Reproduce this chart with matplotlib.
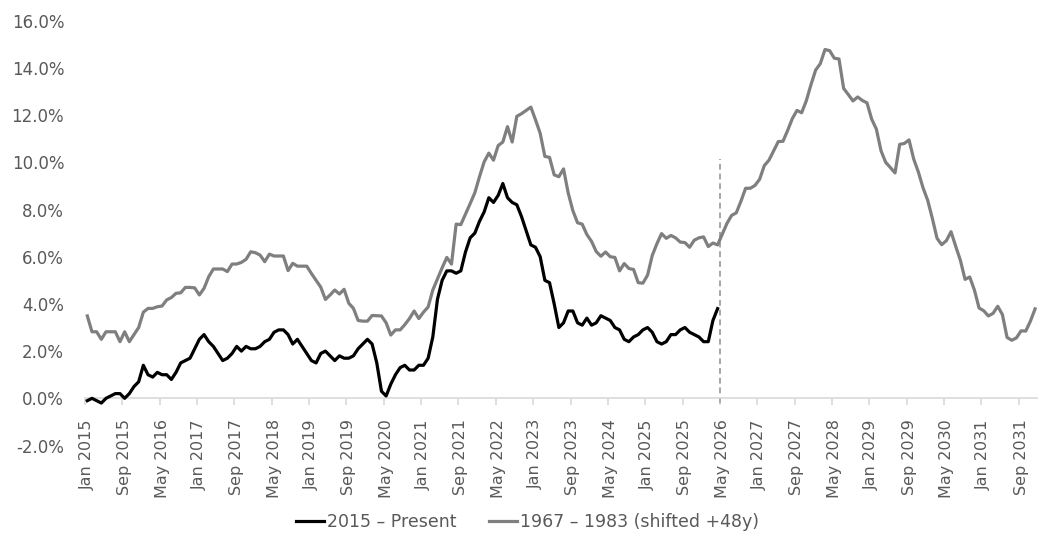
import matplotlib
matplotlib.use("Agg")
import matplotlib.pyplot as plt
from matplotlib.ticker import FixedLocator, FuncFormatter

# US CPI year-over-year, monthly, 2015 -> Apr 2026 (%)
cpi_2015_present = [
    -0.1, 0.0, -0.1, -0.2, 0.0, 0.1, 0.2, 0.2, 0.0, 0.2, 0.5, 0.7,    # 2015
    1.4, 1.0, 0.9, 1.1, 1.0, 1.0, 0.8, 1.1, 1.5, 1.6, 1.7, 2.1,       # 2016
    2.5, 2.7, 2.4, 2.2, 1.9, 1.6, 1.7, 1.9, 2.2, 2.0, 2.2, 2.1,       # 2017
    2.1, 2.2, 2.4, 2.5, 2.8, 2.9, 2.9, 2.7, 2.3, 2.5, 2.2, 1.9,       # 2018
    1.6, 1.5, 1.9, 2.0, 1.8, 1.6, 1.8, 1.7, 1.7, 1.8, 2.1, 2.3,       # 2019
    2.5, 2.3, 1.5, 0.3, 0.1, 0.6, 1.0, 1.3, 1.4, 1.2, 1.2, 1.4,       # 2020
    1.4, 1.7, 2.6, 4.2, 5.0, 5.4, 5.4, 5.3, 5.4, 6.2, 6.8, 7.0,       # 2021
    7.5, 7.9, 8.5, 8.3, 8.6, 9.1, 8.5, 8.3, 8.2, 7.7, 7.1, 6.5,       # 2022
    6.4, 6.0, 5.0, 4.9, 4.0, 3.0, 3.2, 3.7, 3.7, 3.2, 3.1, 3.4,       # 2023
    3.1, 3.2, 3.5, 3.4, 3.3, 3.0, 2.9, 2.5, 2.4, 2.6, 2.7, 2.9,       # 2024
    3.0, 2.8, 2.4, 2.3, 2.4, 2.7, 2.7, 2.9, 3.0, 2.8, 2.7, 2.6,       # 2025
    2.4, 2.4, 3.3, 3.8,                                               # 2026
]

# US CPI year-over-year, monthly, 1967 -> 1983 (%), plotted 48 years later
cpi_1967_1983 = [
    3.49, 2.82, 2.82, 2.50, 2.82, 2.82, 2.82, 2.40, 2.82, 2.40, 2.70, 3.00,      # 1967
    3.65, 3.81, 3.81, 3.88, 3.91, 4.17, 4.27, 4.45, 4.47, 4.70, 4.70, 4.68,      # 1968
    4.38, 4.66, 5.15, 5.48, 5.48, 5.48, 5.37, 5.69, 5.69, 5.76, 5.89, 6.21,      # 1969
    6.17, 6.07, 5.79, 6.11, 6.03, 6.03, 6.03, 5.41, 5.72, 5.60, 5.60, 5.60,      # 1970
    5.29, 5.00, 4.71, 4.19, 4.38, 4.59, 4.42, 4.62, 4.03, 3.81, 3.30, 3.27,      # 1971
    3.27, 3.51, 3.50, 3.49, 3.20, 2.68, 2.90, 2.90, 3.12, 3.38, 3.70, 3.38,      # 1972
    3.65, 3.87, 4.59, 5.06, 5.53, 5.97, 5.69, 7.38, 7.36, 7.80, 8.25, 8.71,      # 1973
    9.39, 10.02, 10.39, 10.09, 10.71, 10.86, 11.51, 10.86, 11.95, 12.06, 12.20, 12.34,  # 1974
    11.80, 11.23, 10.25, 10.21, 9.47, 9.39, 9.72, 8.70, 7.95, 7.44, 7.38, 6.94,  # 1975
    6.65, 6.22, 6.02, 6.20, 6.00, 5.97, 5.40, 5.71, 5.50, 5.46, 4.90, 4.88,      # 1976
    5.22, 6.05, 6.55, 6.98, 6.78, 6.90, 6.80, 6.62, 6.60, 6.40, 6.70, 6.80,      # 1977
    6.84, 6.43, 6.58, 6.50, 6.96, 7.41, 7.75, 7.86, 8.35, 8.90, 8.90, 9.02,      # 1978
    9.28, 9.86, 10.09, 10.49, 10.88, 10.89, 11.35, 11.85, 12.20, 12.10, 12.61, 13.29,  # 1979
    13.91, 14.18, 14.78, 14.73, 14.41, 14.38, 13.13, 12.87, 12.60, 12.77, 12.62, 12.52,  # 1980
    11.83, 11.41, 10.49, 10.00, 9.78, 9.55, 10.76, 10.80, 10.95, 10.14, 9.59, 8.92,  # 1981
    8.39, 7.62, 6.78, 6.51, 6.68, 7.06, 6.44, 5.85, 5.04, 5.14, 4.59, 3.83,     # 1982
    3.71, 3.49, 3.60, 3.90, 3.55, 2.58, 2.46, 2.56, 2.86, 2.85, 3.27, 3.79,     # 1983
]

# every 8th month from Jan 2015
month_labels = [
    "Jan 2015", "Sep 2015", "May 2016", "Jan 2017", "Sep 2017", "May 2018",
    "Jan 2019", "Sep 2019", "May 2020", "Jan 2021", "Sep 2021", "May 2022",
    "Jan 2023", "Sep 2023", "May 2024", "Jan 2025", "Sep 2025", "May 2026",
    "Jan 2027", "Sep 2027", "May 2028", "Jan 2029", "Sep 2029", "May 2030",
    "Jan 2031", "Sep 2031",
]
label_step = 8
y_ticks = [-2, 0, 2, 4, 6, 8, 10, 12, 14, 16]
divider_top = 10.15

label_color = "#595959"
axis_color = "#d9d9d9"

fig = plt.figure(figsize=(10.53, 5.48), dpi=100)
ax = fig.add_axes([0.0807, 0.187, 0.9045, 0.7752])

x_hist = list(range(len(cpi_1967_1983)))
x_now = list(range(len(cpi_2015_present)))

ax.plot(x_hist, cpi_1967_1983, color="#7f7f7f", lw=2.3,
        solid_joinstyle="round", label="1967 \u2013 1983 (shifted +48y)", zorder=3)
ax.plot(x_now, cpi_2015_present, color="black", lw=2.3,
        solid_joinstyle="round", label="2015 \u2013 Present", zorder=4)

# "today" marker just after the last observed month
divider_x = len(cpi_2015_present) - 0.5
ax.plot([divider_x, divider_x], [-0.2, divider_top], color="#a6a6a6",
        lw=1.4, ls=(0, (3, 2)), zorder=2)

ax.set_xlim(-0.5, len(cpi_1967_1983) - 0.5)
ax.set_ylim(y_ticks[0], y_ticks[-1])

for side in ["top", "right", "left"]:
    ax.spines[side].set_visible(False)
ax.spines["bottom"].set_position(("data", 0))
ax.spines["bottom"].set_color(axis_color)
ax.spines["bottom"].set_linewidth(1.2)

label_pos = [i * label_step for i in range(len(month_labels))]
ax.xaxis.set_major_locator(FixedLocator(label_pos))
ax.set_xticklabels(month_labels, rotation=90, fontsize=11.5, color=label_color)
ax.xaxis.set_minor_locator(FixedLocator([p - 0.5 for p in label_pos]))
ax.tick_params(axis="x", which="major", length=0, pad=15)
ax.tick_params(axis="x", which="minor", length=5, width=1.2, color=axis_color)

ax.set_yticks(y_ticks)
ax.yaxis.set_major_formatter(FuncFormatter(lambda v, _: f"{v:.1f}%"))
ax.tick_params(axis="y", length=0, pad=15, labelsize=12, labelcolor=label_color)

handles, labels = ax.get_legend_handles_labels()
fig.legend(handles[::-1], labels[::-1], loc="center", bbox_to_anchor=(0.501, 0.048),
           ncol=2, frameon=False, handlelength=1.6, handletextpad=0.2,
           columnspacing=1.85, fontsize=12.5, labelcolor=label_color)

fig.savefig("out.png", dpi=100)
